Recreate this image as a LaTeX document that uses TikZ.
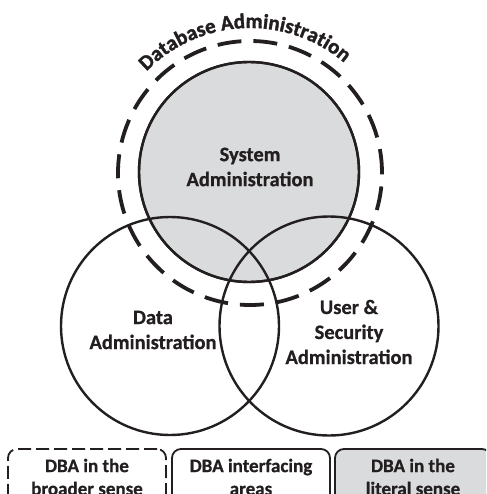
\documentclass[tikz,border=0pt]{standalone}
\usepackage{fontspec}
\setmainfont{Carlito}[BoldFeatures={FakeBold=0.8}]
\newfontfamily\arcfam{Carlito}[UprightFont={* Bold},FakeBold=1.6]
\usetikzlibrary{decorations.text}
\definecolor{sysgray}{RGB}{218,219,220}
\definecolor{ink}{RGB}{35,31,32}
\newcommand{\arcfont}{\arcfam\fontsize{21}{24}\selectfont}
\begin{document}
\begin{tikzpicture}[x=1pt,y=1pt,
  circ/.style={circle,draw=ink,line width=2.4pt,inner sep=0pt},
  lbl/.style={font=\bfseries\fontsize{20.5}{25}\selectfont,align=center,text=ink},
  dbabox/.style={draw=ink,line width=1.8pt,rounded corners=9pt,minimum height=56pt,inner sep=0pt,
     font=\bfseries\fontsize{19}{23}\selectfont,align=center,text=ink}]
\useasboundingbox (0,0) rectangle (486,-494);
\clip (0,0) rectangle (486,-494);
% system administration (grey) circle
\node[circ,fill=sysgray,minimum size=220pt] (sys) at (249,-172) {};
% dashed DBA circle
\node[circle,draw=ink,line width=3.8pt,dash pattern=on 24pt off 12pt,minimum size=264pt,inner sep=0pt] (dba) at (250,-173) {};
% lower circles
\node[circ,minimum size=218pt] (data) at (170,-326) {};
\node[circ,minimum size=219pt] (user) at (329,-326) {};
\node[circ,minimum size=220pt] (sys2) at (249,-172) {};
% labels
\node[lbl] (syslbl) at (250,-167) {System\\Administration};
\node[lbl] (datalbl) at (153,-330) {Data\\Administration};
\node[lbl] (userlbl) at (349,-332) {User \&\\Security\\Administration};
% arc text
\path[font=\arcfont,decorate,decoration={text along path,text align=center,
  text={|\arcfont\color{ink}|Database Administration}}]
  (dba.center) ++(136:145) arc[start angle=136,end angle=49,radius=145];
% bottom boxes
\node[dbabox,dash pattern=on 13pt off 5pt,minimum width=158pt] (b1) at (87,-477) {DBA in the\\broader sense};
\node[dbabox,minimum width=158pt] (b2) at (251,-477) {DBA interfacing\\areas};
\node[dbabox,fill=sysgray,minimum width=156pt] (b3) at (413,-477) {DBA in the\\literal sense};
\end{tikzpicture}
\end{document}
